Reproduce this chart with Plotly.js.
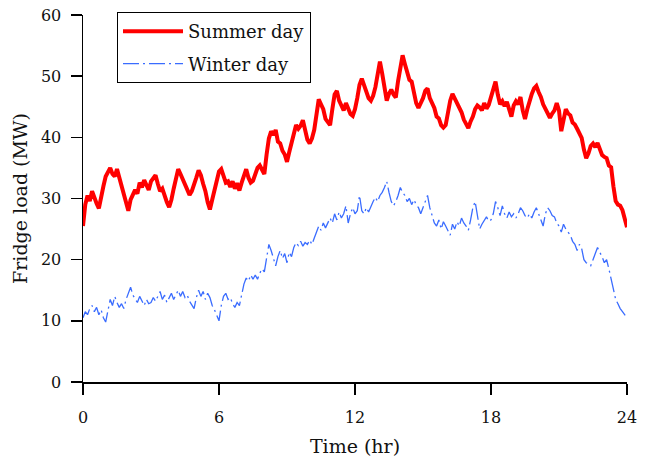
<!DOCTYPE html>
<html><head><meta charset="utf-8">
<script src="https://cdn.plot.ly/plotly-3.0.1.min.js"></script>
<style>html,body{margin:0;padding:0;background:#fff}</style>
</head><body>
<div id="chart" style="width:650px;height:464px"></div>
<script>
// Time axis: samples every 0.1 hr starting at 0 hr
const START_HR = 0;
const STEP_HR = 0.1;

const seriesNames = ['Summer day', 'Winter day'];
const xTickVals = [0, 6, 12, 18, 24];
const xTickText = ['0', '6', '12', '18', '24'];
const yTickVals = [0, 10, 20, 30, 40, 50, 60];

// Fridge load (MW), summer day
const summerLoad = [
  25.5, 29, 30.5, 29.6, 31.2, 30, 29.2, 28.4, 30.6, 32,
  33.6, 34.4, 35, 34, 33.6, 34.8, 33.4, 32.6, 31, 29.4,
  28, 29.8, 30.6, 31.4, 30.8, 32.6, 31.8, 33, 32.2, 31.4,
  32.8, 33.2, 33.8, 32.4, 31.2, 31.6, 30.2, 29.4, 28.6, 29.8,
  31.6, 33.4, 34.8, 34, 33.2, 32.2, 31.4, 30.6, 31.2, 32.6,
  33.4, 34.6, 33.8, 32.4, 31.2, 29.4, 28.2, 29.8, 31.6, 33,
  34.4, 34.8, 33.4, 32.6, 32.8, 31.9, 32.8, 31.6, 32.5, 31.3,
  32.6, 34, 34.8, 33.4, 32.6, 32.9, 33.8, 35, 35.4, 34.8,
  34, 37.2, 39.8, 41, 40.4, 41.2, 39.3, 39, 37.8, 37.2,
  36, 37.6, 39, 40.6, 42, 41.4, 41.9, 42.8, 41.4, 39.6,
  39, 39.8, 41.2, 44, 46.2, 45.4, 44.6, 43, 42.6, 42,
  44.6, 47, 47.6, 46, 45.2, 44.4, 45.6, 44.8, 43.8, 43.5,
  44.6, 46.4, 48.6, 49.6, 48.4, 47.1, 46.4, 46, 46.8, 48.2,
  50, 52.4, 50.4, 47.6, 46, 47.1, 47.8, 47, 46.5, 49.2,
  51.8, 53.4, 52, 50.6, 49.4, 49.1, 47.4, 45.6, 44.8, 45.6,
  46.4, 47.6, 48, 46.4, 45.6, 44.8, 43.4, 43.1, 42, 41.6,
  42, 44.2, 46, 47.1, 46.4, 45.6, 44.9, 44.1, 42.9, 42.1,
  41.5, 42.6, 43.4, 44.6, 45.2, 44.9, 44.4, 45.6, 44.7, 45.3,
  46.6, 48, 49.1, 47, 45.4, 45.9, 45.1, 45.8, 44.7, 43.4,
  45.2, 45.9, 45.4, 46.6, 44.4, 43, 44.6, 46, 47.1, 48,
  48.4, 47.4, 46.6, 45.4, 44.6, 43.7, 43.2, 43.9, 44.4, 45.6,
  44.4, 41, 43, 44.6, 43.9, 43.6, 42.4, 42.1, 41.4, 40.6,
  39.9, 38, 36.6, 37.4, 38.6, 39, 38.4, 39.1, 37.9, 37.1,
  36.8, 36.6, 35.4, 35.1, 32, 29.6, 29, 28.8, 28.1, 26.5,
  25.3
];

// Fridge load (MW), winter day
const winterLoad = [
  10.5, 11.5, 11, 12, 12.5, 11.5, 12.2, 11, 11.8, 10.5,
  9.8, 12, 13.5, 12.5, 14, 13, 12.2, 12.8, 12, 13.5,
  14.5, 15.5, 14.2, 13.5, 13, 14, 13.2, 12.5, 13.5, 12.8,
  13, 13.8, 13.2, 14, 14.8, 13.5, 14.2, 13, 13.8, 14.5,
  13.5, 14.2, 15, 14, 14.8, 13.8, 14.2, 13.2, 12.5, 12,
  13.8, 15, 14, 14.8, 13.5, 14.5, 13.8, 12.5, 11.8, 10.8,
  10, 12.5, 14, 14.5, 13.5, 13.8, 12.8, 12.2, 13, 12.5,
  14.5, 16, 17, 16.5, 17.5, 16.8, 17.5, 16.8, 17.8, 18.5,
  18, 20.5, 22.5, 21.5, 20, 19, 20.5, 21.5, 20.2, 21,
  19.5, 21.2, 20.5, 22, 22.8, 22.3, 23, 22.2, 22.8, 22.5,
  23.2, 22.5, 23.5, 24.5, 25.5, 24.8, 26, 25.2, 26, 26.8,
  26, 27.5, 26.5, 27.8, 26.8, 27.5, 28.8, 26, 27.5, 28.5,
  27.5, 28, 30.5, 28, 27.5, 28.5, 27.8, 28.8, 29.5, 30.2,
  29.5, 30.5, 31, 31.8, 32.8, 31, 29.5, 28.8, 29.5, 30.5,
  31.8, 31, 30.5, 29.5, 30, 29, 29.8, 29, 28.5, 27.5,
  28.5, 29.5, 30.5, 28.5, 27, 26, 25.5, 26.5, 25, 26.2,
  25.5, 24.8, 24, 25.8, 25, 26.2, 25.5, 26.8, 26, 25.5,
  24.8, 26.5, 28.5, 29.5, 27, 25, 25.8, 26.5, 27, 26.3,
  26.5, 27.5, 29.5, 28.5, 27.2, 28.8, 27.5, 26.8, 27.8, 27,
  27.5, 26.8, 27.5, 28.5, 28, 27.2, 26.8, 27.5, 26.8, 27.8,
  28.5, 27.5, 26.5, 25.5, 27.5, 28.5, 28, 27.2, 27, 26,
  25.5, 24.5, 25.8, 25, 24.5, 24, 23, 22.5, 21.5, 22.5,
  21.8, 20, 19.5, 19.2, 19, 20, 21, 22, 21.2, 20.5,
  19.5, 20, 18.5, 17, 15.5, 13.5, 12.8, 12, 11.5, 11,
  10.5
];

const FONT = '"DejaVu Serif", "Liberation Serif", serif';

const traces = [
  {
    type: 'scatter', mode: 'lines', name: seriesNames[0],
    x0: START_HR, dx: STEP_HR, y: summerLoad,
    legendgroup: 'summer',
    line: {color: '#ff0000', width: 4}
  },
  {
    type: 'scatter', mode: 'lines', name: seriesNames[1],
    x0: START_HR, dx: STEP_HR, y: winterLoad,
    legendgroup: 'winter',
    line: {color: '#3a6cff', width: 1.3, dash: '16px,4px,2px,4px'}
  }
];

const axisCommon = {
  showline: true, linecolor: '#000', linewidth: 1.5,
  ticks: 'outside', ticklen: 11, tickwidth: 1.5, tickcolor: '#000',
  showgrid: false, zeroline: false,
  tickfont: {family: FONT, size: 16, color: '#111'}
};

const layout = {
  width: 650, height: 464,
  margin: {l: 83, r: 23, t: 15, b: 82},
  paper_bgcolor: '#fff', plot_bgcolor: '#fff',
  font: {family: FONT, color: '#111'},
  showlegend: true,
  legend: {
    x: 0.0625, y: 1.008, xanchor: 'left', yanchor: 'top',
    bordercolor: '#000', borderwidth: 1, bgcolor: '#fff',
    font: {family: FONT, size: 18, color: '#111'},
    tracegroupgap: 6, itemwidth: 60
  },
  xaxis: Object.assign({}, axisCommon, {
    range: [0, 24], tickvals: xTickVals, ticktext: xTickText,
    ticklabelstandoff: 9,
    title: {text: 'Time (hr)', font: {family: FONT, size: 19, color: '#111'}, standoff: 14}
  }),
  yaxis: Object.assign({}, axisCommon, {
    range: [0, 60], tickvals: yTickVals,
    ticklabelstandoff: 6,
    title: {text: 'Fridge load (MW)\u2003', font: {family: FONT, size: 19, color: '#111'}, standoff: 8}
  })
};

Plotly.newPlot('chart', traces, layout, {displayModeBar: false, staticPlot: true});
</script>
</body></html>
